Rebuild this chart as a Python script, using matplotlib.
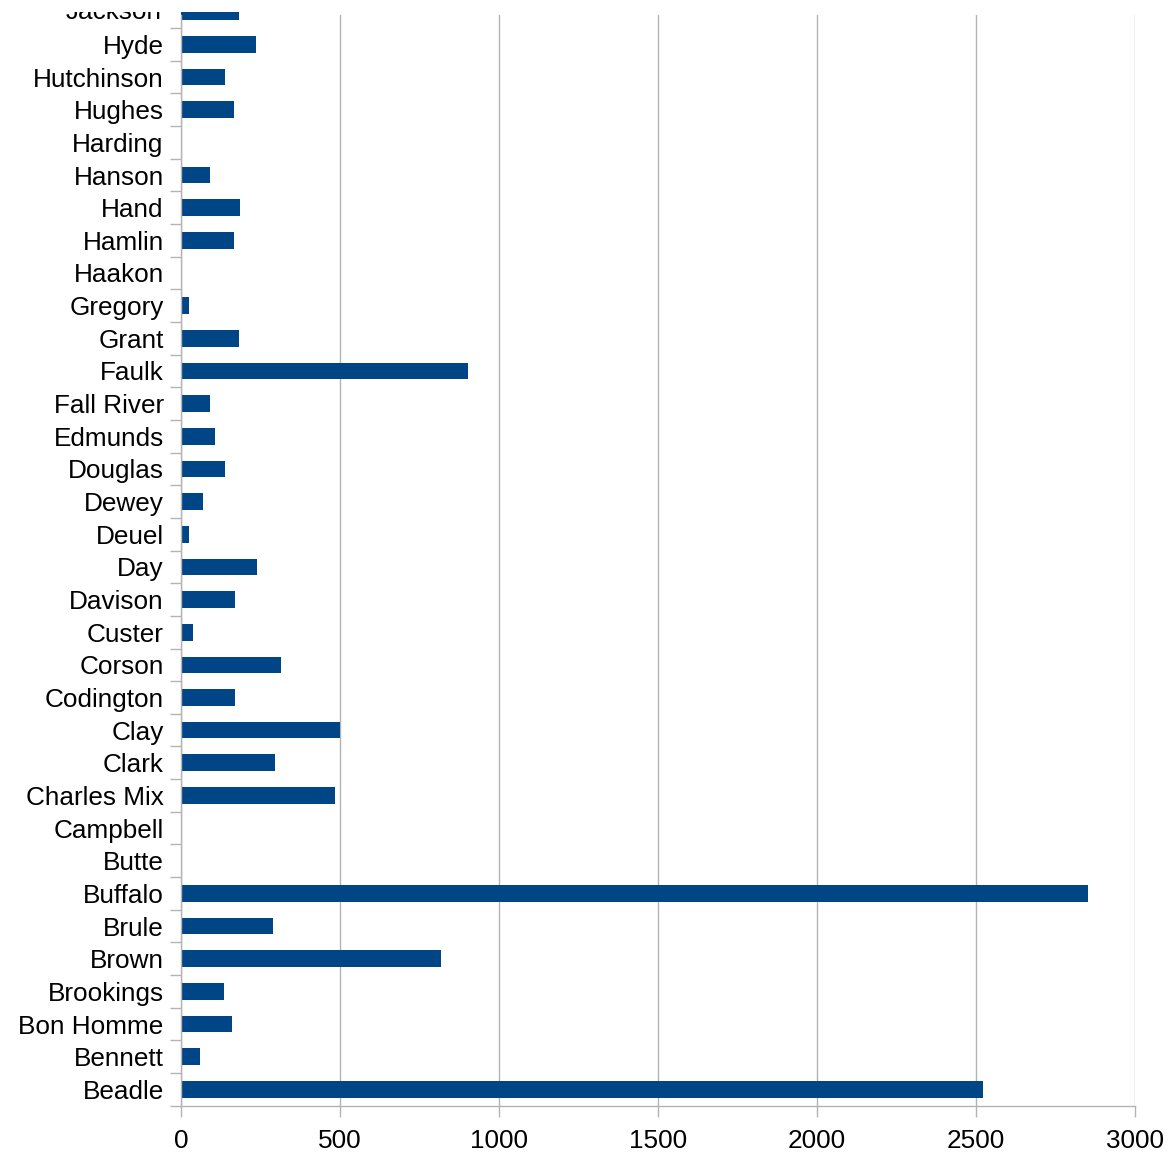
import matplotlib
matplotlib.use("Agg")
import matplotlib.pyplot as plt
from matplotlib.patches import Rectangle
import numpy as np

plt.rcParams['font.family'] = ['Liberation Sans', 'DejaVu Sans']

counties = ["Beadle", "Bennett", "Bon Homme", "Brookings", "Brown", "Brule", "Buffalo",
            "Butte", "Campbell", "Charles Mix", "Clark", "Clay", "Codington", "Corson",
            "Custer", "Davison", "Day", "Deuel", "Dewey", "Douglas", "Edmunds", "Fall River",
            "Faulk", "Grant", "Gregory", "Haakon", "Hamlin", "Hand", "Hanson", "Harding",
            "Hughes", "Hutchinson", "Hyde", "Jackson"]
values = [2522, 60, 160, 135, 818, 289, 2853,
          0, 0, 484, 296, 500, 170, 315,
          38, 170, 239, 25, 69, 138, 107, 91,
          903, 182, 25, 0, 167, 186, 91, 0,
          167, 138, 236, 182]
xticks = [0, 500, 1000, 1500, 2000, 2500, 3000]

W, H = 1170, 1152
FS = 18.8
fig = plt.figure(figsize=(W / 100, H / 100), dpi=100)
left, right = 181 / W, 1135 / W
bottom, top = (H - 1105.7) / H, (H - 15) / H
ax = fig.add_axes([left, bottom, right - left, top - bottom])

color = "#004586"
grid = "#b3b3b3"
y = np.arange(len(counties))
bars = ax.barh(y, values, height=0.51, color=color, zorder=3)
for b in bars:
    b.set_clip_on(False)

ax.set_xlim(0, 3000)
ax.set_ylim(-0.5, 32.9)
ax.set_xticks(xticks)
ax.set_xticklabels([str(t) for t in xticks], fontsize=FS)
ax.xaxis.grid(True, color=grid, linewidth=1, zorder=0)

vis = [i for i in y if i <= 32]
ax.set_yticks(vis)
ax.set_yticklabels([counties[i] for i in vis], fontsize=FS)
ax.tick_params(axis='y', which='major', length=0, pad=12.5)
ax.set_yticks(np.arange(-0.5, 33, 1.0), minor=True)
ax.tick_params(axis='y', which='minor', length=8, width=1, color=grid)
ax.tick_params(axis='x', which='major', length=8, width=1, color=grid, pad=9)

# Label of the partially visible top category (same offset as tick labels)
for i in y:
    if i > 32:
        ax.annotate(counties[i], xy=(0, i), xycoords=('axes fraction', 'data'),
                    xytext=(-13.7, 0), textcoords='offset points',
                    ha='right', va='center', fontsize=FS, annotation_clip=False)

for s in ['top', 'right']:
    ax.spines[s].set_visible(False)
for s in ['left', 'bottom']:
    ax.spines[s].set_color(grid)
    ax.spines[s].set_linewidth(1)
    ax.spines[s].set_zorder(4)

# top of the chart is cut off in the reference view
fig.patches.append(Rectangle((0, 1 - 12 / H), 1, 12 / H, transform=fig.transFigure,
                             facecolor='white', edgecolor='none', zorder=100))

fig.savefig("out.png", dpi=100)
